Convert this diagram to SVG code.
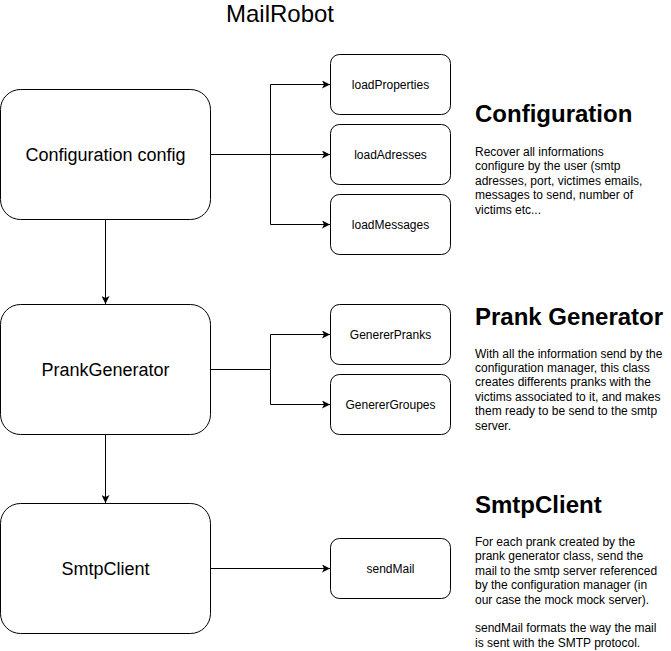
<svg xmlns="http://www.w3.org/2000/svg" width="671" height="651" viewBox="0 0 671 651">
<defs>
<marker id="arr" viewBox="0 0 10 10" refX="10" refY="5" markerWidth="8" markerHeight="8" markerUnits="userSpaceOnUse" orient="auto">
<path d="M0,0 L10,5 L0,10 L2.5,5 Z" fill="#000"/>
</marker>
<style>
.big{fill:#fff;stroke:#000;stroke-width:1}
.sm{fill:#fff;stroke:#000;stroke-width:1}
text{font-family:"Liberation Sans",Arial,Helvetica,sans-serif;fill:#000}
.bl{font-size:18px;text-anchor:middle}
.sl{font-size:12px;text-anchor:middle}
.h{font-size:24px;font-weight:bold}
.b{font-size:12px}
.c{fill:none;stroke:#000;stroke-width:1;marker-end:url(#arr)}
</style>
</defs>
<rect width="671" height="651" fill="#fff"/>
<text x="280" y="22" font-size="24" text-anchor="middle">MailRobot</text>

<g id="connectors">
<path class="c" d="M210.5,154.5 H270.5 V84.5 H330"/>
<path class="c" d="M210.5,154.5 H330"/>
<path class="c" d="M270.5,154.5 V224.5 H330"/>
<path class="c" d="M105.5,219.5 V304"/>
<path class="c" d="M210.5,369.5 H270.5 V334.5 H330"/>
<path class="c" d="M270.5,369.5 V404.5 H330"/>
<path class="c" d="M105.5,434.5 V503"/>
<path class="c" d="M210.5,568.5 H330"/>
</g>

<g id="config"><rect class="big" x="0.5" y="89.5" width="210" height="130" rx="20"/><text class="bl" x="105.5" y="161">Configuration config</text></g>
<g id="loadProperties"><rect class="sm" x="330.5" y="54.5" width="120" height="60" rx="9"/><text class="sl" x="390.5" y="89">loadProperties</text></g>
<g id="loadAdresses"><rect class="sm" x="330.5" y="124.5" width="120" height="60" rx="9"/><text class="sl" x="390.5" y="159">loadAdresses</text></g>
<g id="loadMessages"><rect class="sm" x="330.5" y="194.5" width="120" height="60" rx="9"/><text class="sl" x="390.5" y="229">loadMessages</text></g>

<g id="prankGenerator"><rect class="big" x="0.5" y="304.5" width="210" height="130" rx="20"/><text class="bl" x="105.5" y="376">PrankGenerator</text></g>
<g id="genererPranks"><rect class="sm" x="330.5" y="304.5" width="120" height="60" rx="9"/><text class="sl" x="390.5" y="339">GenererPranks</text></g>
<g id="genererGroupes"><rect class="sm" x="330.5" y="374.5" width="120" height="60" rx="9"/><text class="sl" x="390.5" y="409">GenererGroupes</text></g>

<g id="smtpClient"><rect class="big" x="0.5" y="503.5" width="210" height="130" rx="20"/><text class="bl" x="105.5" y="575">SmtpClient</text></g>
<g id="sendMail"><rect class="sm" x="330.5" y="538.5" width="120" height="60" rx="9"/><text class="sl" x="390.5" y="573">sendMail</text></g>

<g id="configDesc">
<text class="h" x="475" y="122">Configuration</text>
<text class="b" x="475" y="156">Recover all informations</text>
<text class="b" x="475" y="170.4">configure by the user (smtp</text>
<text class="b" x="475" y="184.8">adresses, port, victimes emails,</text>
<text class="b" x="475" y="199.2">messages to send, number of</text>
<text class="b" x="475" y="213.6">victims etc...</text>
</g>
<g id="prankDesc">
<text class="h" x="475" y="325">Prank Generator</text>
<text class="b" x="475" y="357.5">With all the information send by the</text>
<text class="b" x="475" y="371.9">configuration manager, this class</text>
<text class="b" x="475" y="386.3">creates differents pranks with the</text>
<text class="b" x="475" y="400.7">victims associated to it, and makes</text>
<text class="b" x="475" y="415.1">them ready to be send to the smtp</text>
<text class="b" x="475" y="429.5">server.</text>
</g>
<g id="smtpDesc">
<text class="h" x="475" y="513">SmtpClient</text>
<text class="b" x="475" y="546">For each prank created by the</text>
<text class="b" x="475" y="560.4">prank generator class, send the</text>
<text class="b" x="475" y="574.8">mail to the smtp server referenced</text>
<text class="b" x="475" y="589.2">by the configuration manager (in</text>
<text class="b" x="475" y="603.6">our case the mock mock server).</text>
<text class="b" x="475" y="632.4">sendMail formats the way the mail</text>
<text class="b" x="475" y="646.8">is sent with the SMTP protocol.</text>
</g>
</svg>
